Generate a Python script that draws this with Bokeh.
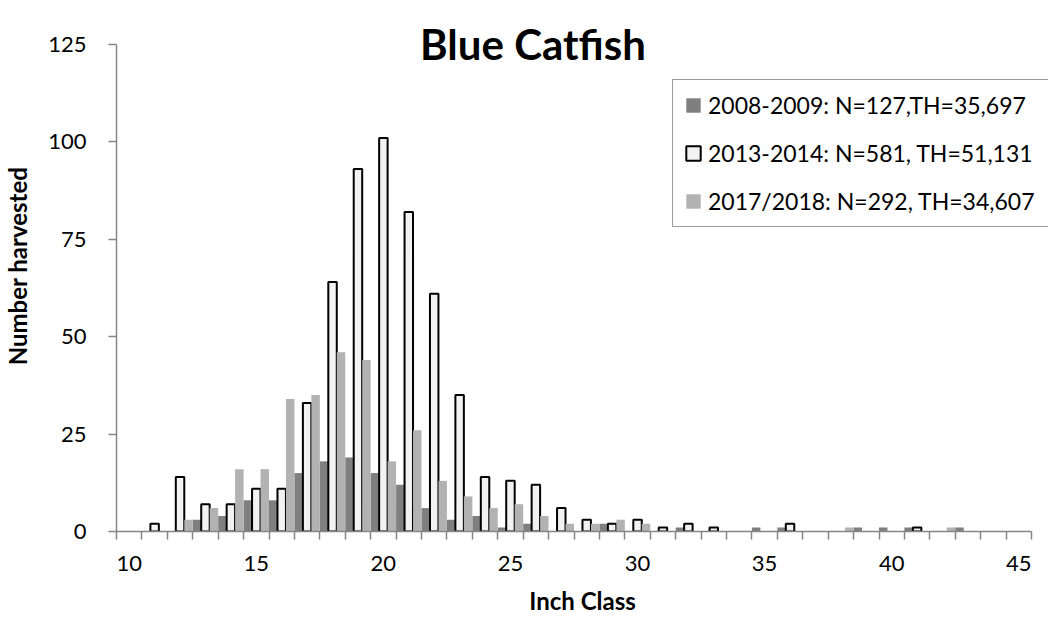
from bokeh.plotting import figure
from bokeh.models import Range1d, FixedTicker, Legend, LegendItem, Label, ColumnDataSource
from bokeh.embed import file_html
from bokeh.resources import INLINE

# ---- data ----
inch_classes = list(range(10, 46))
tick_labels = [10, 15, 20, 25, 30, 35, 40, 45]
y_ticks = [0, 25, 50, 75, 100, 125]

series_names = ["2008-2009: N=127,TH=35,697",
                "2013-2014: N=581, TH=51,131",
                "2017/2018: N=292, TH=34,607"]

counts_2008_2009 = [0, 0, 0, 3, 4, 8, 8, 15, 18, 19, 15, 12, 6, 3, 4, 1, 2, 0,
                    0, 2, 0, 0, 1, 0, 0, 1, 1, 0, 0, 1, 1, 1, 0, 1, 0, 0]
counts_2013_2014 = [0, 2, 14, 7, 7, 11, 11, 33, 64, 93, 101, 82, 61, 35, 14, 13, 12, 6,
                    3, 2, 3, 1, 2, 1, 0, 0, 2, 0, 0, 0, 0, 1, 0, 0, 0, 0]
counts_2017_2018 = [0, 0, 3, 6, 16, 16, 34, 35, 46, 44, 18, 26, 13, 9, 6, 7, 4, 2,
                    2, 3, 2, 0, 0, 0, 0, 0, 0, 0, 1, 0, 0, 0, 1, 0, 0, 0]

FONT = "Lato"
W, H = 1048, 617

# layout: the frame reaches the canvas top and right edge so that the title and the
# legend are not clipped; the axes themselves are bounded to the data extent.
Y_TOP = 125
FRAME_BOTTOM = 532.0   # pixel row of value 0
TOP_PIX = 44.0         # pixel row of value 125
y_max = Y_TOP * FRAME_BOTTOM / (FRAME_BOTTOM - TOP_PIX)

X_LO, X_HI = inch_classes[0] - 0.5, inch_classes[-1] + 0.5
AX_LEFT, AX_RIGHT = 116.0, 1031.0
px_per_class = (AX_RIGHT - AX_LEFT) / (X_HI - X_LO)
x_max = X_HI + (W - AX_RIGHT) / px_per_class

p = figure(width=W, height=H, output_backend="svg", toolbar_location=None,
           x_range=Range1d(X_LO, x_max), y_range=Range1d(0, y_max),
           min_border_left=int(AX_LEFT), min_border_right=0, min_border_top=0,
           min_border_bottom=80)
p.outline_line_color = None
p.xgrid.visible = False
p.ygrid.visible = False
p.background_fill_color = "white"
p.border_fill_color = "white"

series = [
    (counts_2008_2009, -1/3, dict(fill_color="#7f7f7f", line_color=None)),
    (counts_2013_2014, 0.0, dict(fill_color="#f2f2f2", line_color="black", line_width=2)),
    (counts_2017_2018, 1/3, dict(fill_color="#b2b2b2", line_color=None)),
]
renderers = []
for vals, off, style in series:
    xs = [c + off for c, v in zip(inch_classes, vals) if v > 0]
    tops = [v for v in vals if v > 0]
    src = ColumnDataSource(dict(x=xs, top=tops))
    r = p.vbar(x="x", top="top", bottom=0, width=1/3, source=src, **style)
    renderers.append(r)

# axes
axis_color = "#868686"
xa = p.xaxis[0]
xa.ticker = FixedTicker(ticks=tick_labels, minor_ticks=[X_LO + i for i in range(len(inch_classes) + 1)])
xa.bounds = (X_LO, X_HI)
xa.major_tick_out = 0
xa.major_tick_in = 0
xa.minor_tick_out = 8
xa.minor_tick_in = 0
xa.minor_tick_line_color = axis_color
xa.minor_tick_line_width = 1.5
xa.axis_line_color = axis_color
xa.axis_line_width = 1.5
xa.major_label_standoff = 16
xa.major_label_text_font = FONT
xa.major_label_text_font_size = "22px"
xa.major_label_text_color = "black"
xa.axis_label = "Inch Class"
xa.axis_label_text_font = FONT
xa.axis_label_text_font_size = "24px"
xa.axis_label_text_font_style = "bold"
xa.axis_label_text_color = "black"
xa.axis_label_standoff = 12

ya = p.yaxis[0]
ya.ticker = FixedTicker(ticks=y_ticks)
ya.bounds = (0, Y_TOP)
ya.major_tick_out = 8
ya.major_tick_in = 0
ya.minor_tick_out = 0
ya.minor_tick_in = 0
ya.major_tick_line_color = axis_color
ya.major_tick_line_width = 1.5
ya.axis_line_color = axis_color
ya.axis_line_width = 1.5
ya.major_label_standoff = 22
ya.major_label_text_font = FONT
ya.major_label_text_font_size = "22px"
ya.major_label_text_color = "black"
ya.axis_label = "Number harvested"
ya.axis_label_text_font = FONT
ya.axis_label_text_font_size = "24px"
ya.axis_label_text_font_style = "bold"
ya.axis_label_text_color = "black"
ya.axis_label_standoff = 13

# title (just above the top of the value axis)
title = Label(x=416.5, y=Y_TOP, x_units="screen", y_units="data", text="Blue Catfish",
              text_font=FONT, text_font_size="42px", text_font_style="bold",
              text_align="center", text_baseline="alphabetic", text_color="black")
p.add_layout(title)

# legend (its box runs past the right edge, as in the reference)
legend = Legend(items=[LegendItem(label=n, renderers=[r]) for n, r in zip(series_names, renderers)],
                location=(556, FRAME_BOTTOM - 228), orientation="vertical")
legend.label_text_font = FONT
legend.label_text_font_size = "23px"
legend.label_text_color = "black"
legend.label_height = 26
legend.label_width = 345
legend.glyph_width = 18
legend.glyph_height = 18
legend.label_standoff = 6
legend.spacing = 20
legend.padding = 11
legend.margin = 0
legend.border_line_color = "#3a3a3a"
legend.border_line_width = 1
legend.background_fill_color = "white"
legend.background_fill_alpha = 1.0
p.add_layout(legend)

open("out.html", "w").write(file_html(p, INLINE))
